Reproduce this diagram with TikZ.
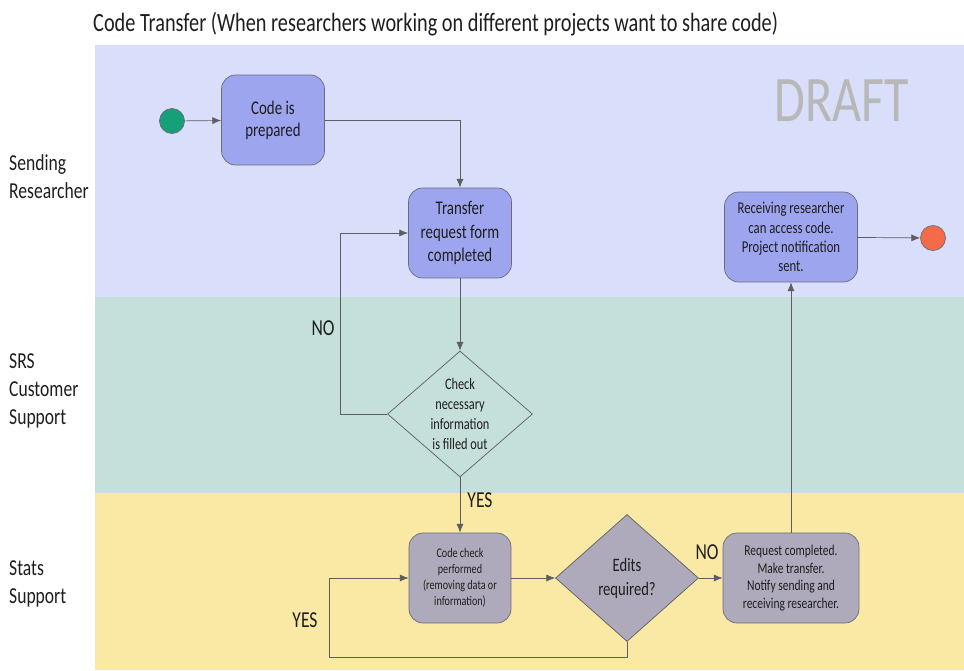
\documentclass[tikz,border=0pt]{standalone}
\usepackage{fontspec}
\setmainfont{Carlito}[FakeStretch=0.77]
\usepackage{tikz}
\usetikzlibrary{shapes.geometric,arrows.meta}

\definecolor{laneblue}{HTML}{D9DEFA}
\definecolor{lanegreen}{HTML}{C5DFDA}
\definecolor{laneyellow}{HTML}{FAE8A5}
\definecolor{boxblue}{HTML}{9DA5EF}
\definecolor{boxgray}{HTML}{AEAABB}
\definecolor{boxline}{HTML}{6B6B78}
\definecolor{startgreen}{HTML}{16A07A}
\definecolor{endorange}{HTML}{F46B48}
\definecolor{flowline}{HTML}{5E5E5E}
\definecolor{inkdark}{HTML}{1E1E1E}

\begin{document}
\begin{tikzpicture}[x=0.02cm, y=-0.02cm,
    activity/.style ={rectangle, rounded corners=8pt, draw=boxline, fill=boxblue, align=center, text=inkdark, minimum width=2.06cm, minimum height=1.8cm, inner sep=1pt},
    review/.style ={activity, fill=boxgray},
    decision/.style ={diamond, draw=flowline, align=center, text=inkdark, inner sep=-2pt},
    terminal/.style ={circle, draw=boxline, minimum size=0.5cm, inner sep=0pt},
    lanename/.style ={anchor=west, align=left, text=inkdark, font=\fontsize{13}{16}\selectfont},
    answer/.style ={text=inkdark, font=\fontsize{13}{15}\selectfont},
    flow/.style ={draw=flowline, -{Latex[length=5pt,width=4pt]}}]
   \useasboundingbox (0,0) rectangle (964,670);
   \fill[laneblue] (95,45) rectangle (964,297);
   \fill[lanegreen] (95,297) rectangle (964,493);
   \fill[laneyellow] (95,493) rectangle (964,670);
   \node[anchor=west, text=inkdark, font=\fontsize{15}{18}\selectfont] (title) at (87,24) {Code Transfer (When researchers working on different projects want to share code)};
   \node[text=black!28, font=\fontsize{37}{40}\selectfont] (draft) at (842,101) {DRAFT};
   \node[lanename] (sender) at (3,177) {Sending\\Researcher};
   \node[lanename] (support) at (3,391) {SRS\\Customer\\Support};
   \node[lanename] (stats) at (3,584) {Stats\\Support};
   \node[terminal, fill=startgreen] (start) at (172,121) {};
   \node[activity, font=\fontsize{11}{12.5}\selectfont] (prep) at (273,120) {Code is\\prepared};
   \node[activity, font=\fontsize{11}{13.4}\selectfont] (form) at (460,233) {Transfer\\request form\\completed};
   \node[activity, minimum width=2.66cm, font=\fontsize{9.4}{11}\selectfont] (access) at (791,237) {Receiving researcher\\can access code.\\Project notification\\sent.};
   \node[terminal, fill=endorange] (stop) at (933,238) {};
   \node[decision, minimum width=2.9cm, minimum height=2.52cm, font=\fontsize{9.1}{11.4}\selectfont] (check) at (460,414) {Check\\necessary\\information\\is filled out};
   \node[review, minimum width=2.04cm, font=\fontsize{7.5}{9.1}\selectfont] (codecheck) at (460,578) {Code check\\performed\\(removing data or\\information)};
   \node[decision, fill=boxgray, minimum width=2.86cm, minimum height=2.54cm, font=\fontsize{10.8}{13.7}\selectfont] (edits) at (627,578) {Edits\\required?};
   \node[review, minimum width=2.72cm, font=\fontsize{8.5}{10}\selectfont] (done) at (791,578) {Request completed.\\Make transfer.\\Notify sending and\\receiving researcher.};
   \coordinate (redo) at (329,657);
   \draw[flow] (start) to (prep);
   \draw[flow] (prep.east) -| (form.north);
   \draw[flow] (form) to (check);
   \draw[flow] (check.west) -- ++(-47,0) |- (form.west);
   \draw[flow] (check) to (codecheck);
   \draw[flow] (codecheck) to (edits);
   \draw[flow] (edits) to (done);
   \draw[flow] (edits.south) |- (redo) |- (codecheck.west);
   \draw[flow] (done) to (access);
   \draw[flow] (access) to (stop);
   \node[answer] (no1) at (323,328) {NO};
   \node[answer] (yes1) at (480,500) {YES};
   \node[answer] (no2) at (707,552) {NO};
   \node[answer] (yes2) at (305,620) {YES};
 \end{tikzpicture}
\end{document}
